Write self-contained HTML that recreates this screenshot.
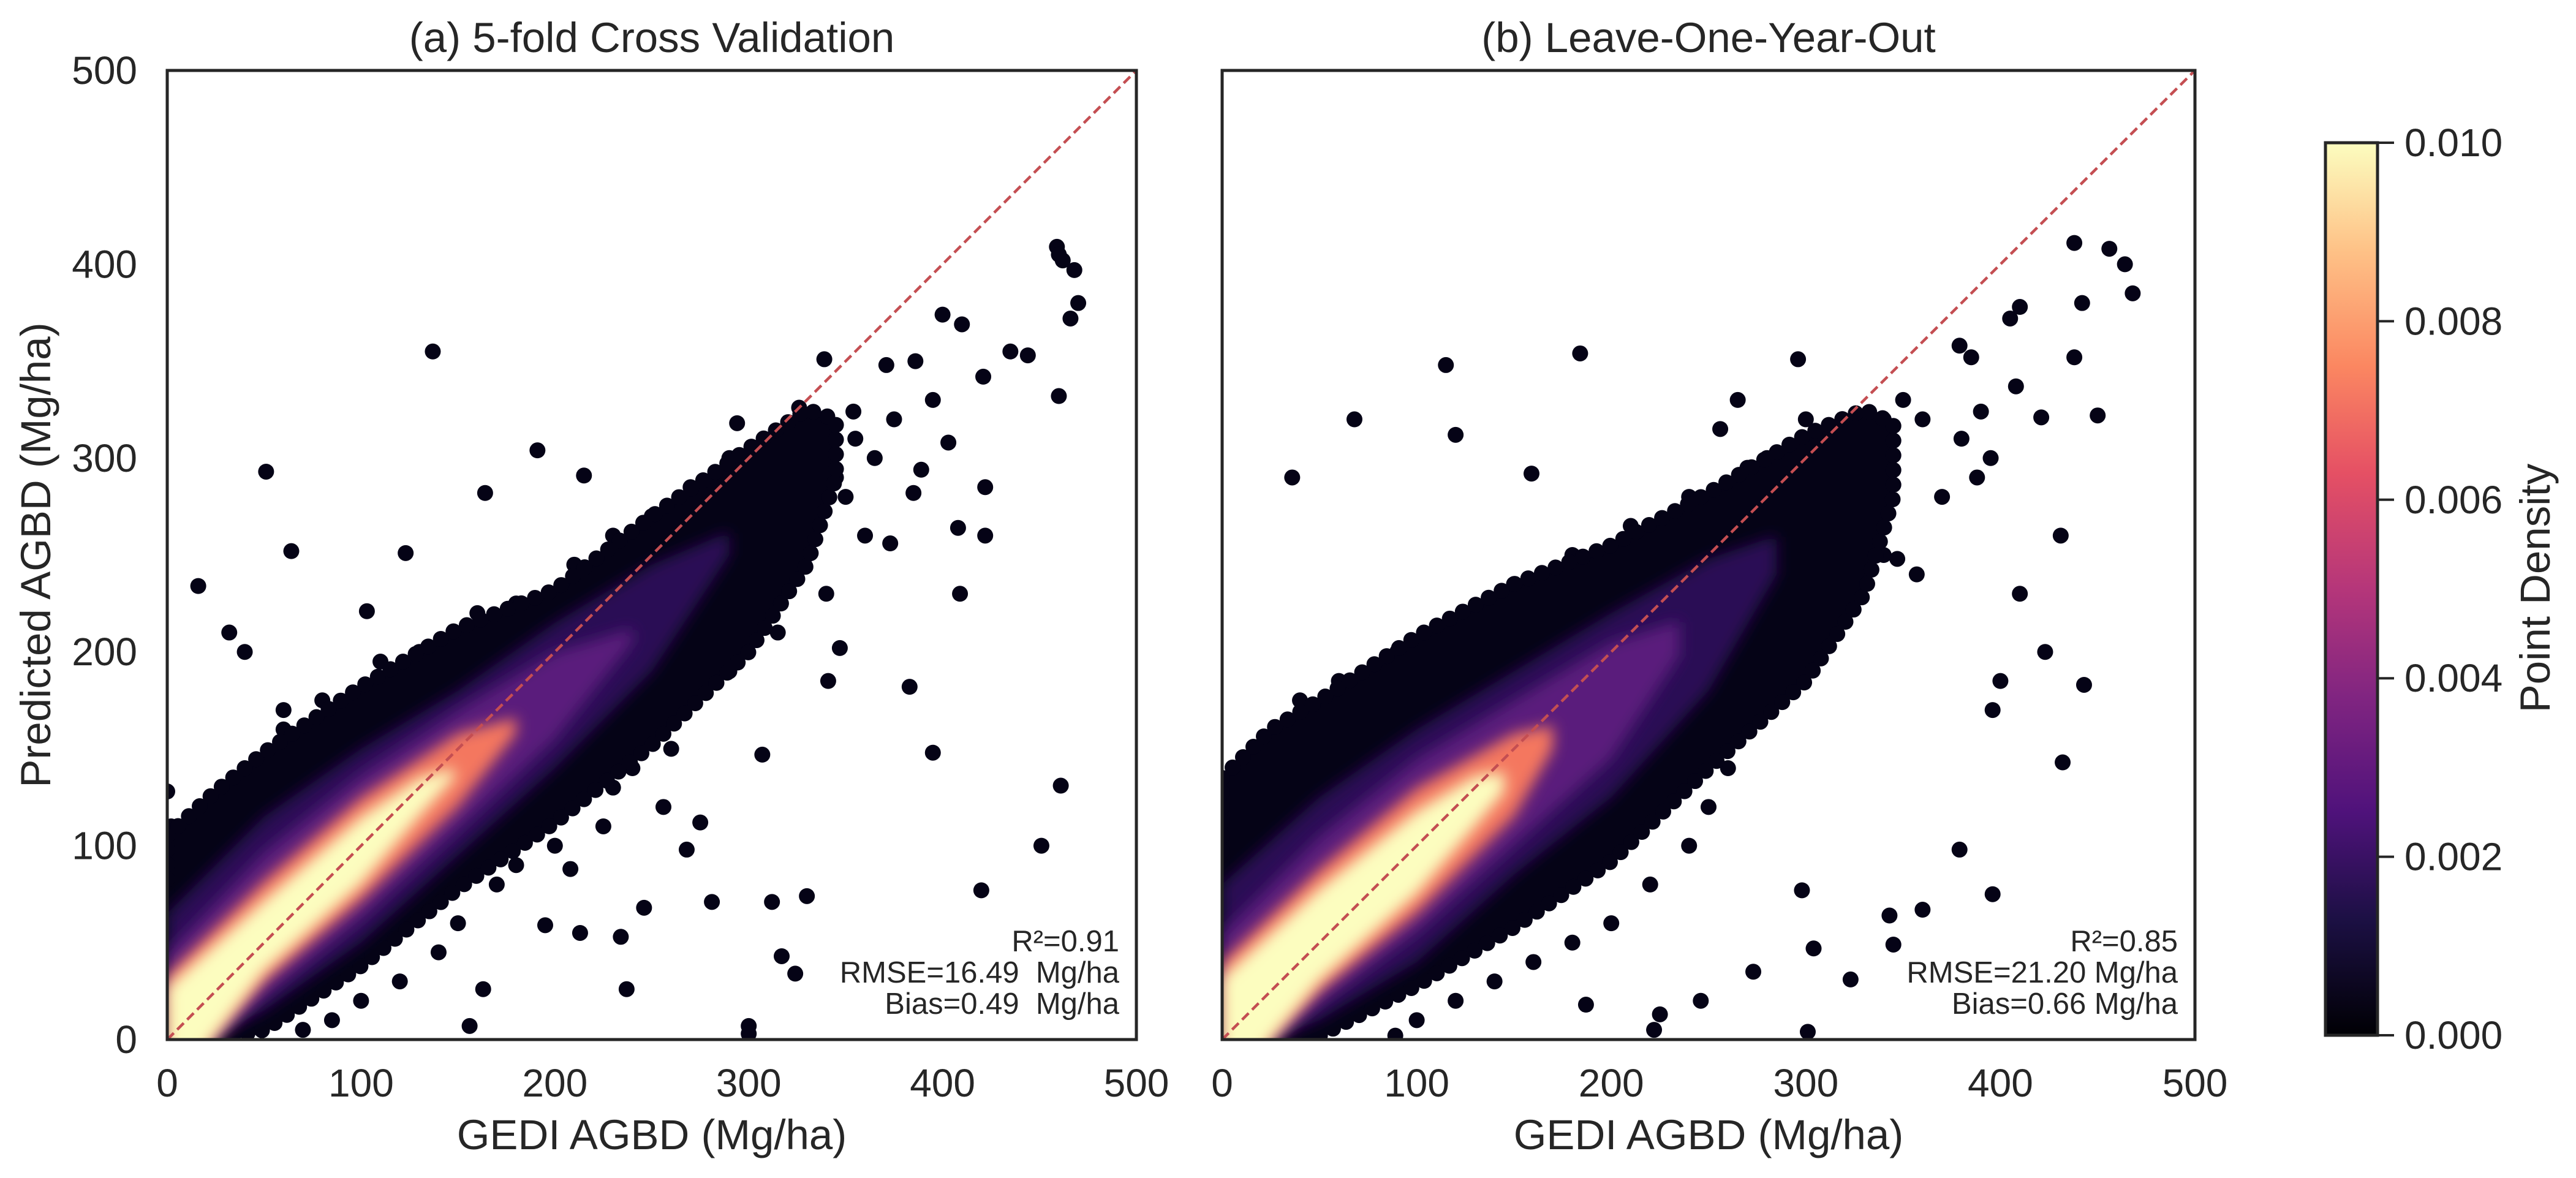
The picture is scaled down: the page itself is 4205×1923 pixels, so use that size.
<!DOCTYPE html>
<html><head><meta charset="utf-8"><style>
html,body{margin:0;padding:0;background:#fff;}
svg{display:block;font-family:"Liberation Sans",Arial,sans-serif;}
text{white-space:pre;}
</style></head><body>
<svg id="fig" width="4205" height="1923" viewBox="0 0 4205 1923" xmlns="http://www.w3.org/2000/svg">
<defs>
<linearGradient id="magma" x1="0" y1="1" x2="0" y2="0">
<stop offset="0" stop-color="#000004"/><stop offset="0.13" stop-color="#1c1044"/><stop offset="0.25" stop-color="#4f127b"/><stop offset="0.38" stop-color="#812581"/><stop offset="0.5" stop-color="#b5367a"/><stop offset="0.63" stop-color="#e55064"/><stop offset="0.75" stop-color="#fb8761"/><stop offset="0.88" stop-color="#fec287"/><stop offset="1" stop-color="#fcfdbf"/>
</linearGradient>
<filter id="blur" x="-10%" y="-10%" width="120%" height="120%"><feGaussianBlur stdDeviation="12"/></filter>
<clipPath id="clipA"><rect x="273" y="115" width="1582" height="1582"/></clipPath>
<clipPath id="clipB"><rect x="1995" y="115" width="1588" height="1582"/></clipPath>
</defs>
</svg>
<script>
// ---- data ----
const xTicks=[0,100,200,300,400,500];
const yTicks=[0,100,200,300,400,500];
const cbTicks=[0,0.002,0.004,0.006,0.008,0.010];
const cbTickLabels=["0.000","0.002","0.004","0.006","0.008","0.010"];
const levelValues=[0,0.0015,0.003,0.0065,0.01];
// panel a density bands (x knots, upper, lower)
const aBandX=[[0,25,50,100,150,200,250,300,330,345],[0,50,100,150,200,250,290],[0,50,100,150,200,240],[0,50,100,150,180],[0,50,100,130,148]];
const aBandUp=[[105,128,148,182,212,232,270,305,325,320],[65,115,150,180,215,245,262],[45,97,137,170,200,212],[33,82,125,158,166],[27,72,115,135,140]];
const aBandLo=[[-10,0,5,38,78,112,152,200,245,290],[-10,15,50,95,140,190,250],[-20,22,62,108,155,205],[-25,30,72,120,158],[-30,35,80,115,135]];
const aOutX=[137,51,191,215,164,16,64,123,32,40,103,461,451,420,395,383,307,300,324,330,312,281,237,163,156,459,468,460,435,444,410,400,422,422,408,409,341,347,373,385,389,403,339,326,294,354,371,386,421,256,268,208,213,234,317,246,275,195,0,2,20,60,300,470,466,462,460,
 310,320,330,345,355,365,300,290,310,330,280,290,300,270,250,260,240,230,225,200,180,170,150,140,120,100,85,70,20,40,60,80,110,130,160,180,210,230,250,270,290,350,360,340,375,395,315];
const aOutY=[355,293,304,291,282,234,252,251,210,200,221,131,100,77,148,182,147,7,34,74,71,71,26,26,7,409,397,332,355,353,369,374,260,285,264,230,185,202,256,282,294,308,351,326,318,324,348,350,342,120,98,88,55,53,43,68,112,59,128,110,120,170,3,380,372,402,405,
 280,300,270,290,310,300,250,230,240,250,200,190,210,180,170,150,140,130,110,100,90,80,60,45,30,20,10,5,110,140,160,175,195,200,220,225,245,260,270,285,300,280,260,230,320,330,210];
// panel b density bands
const bBandX=[[0,25,50,100,150,200,250,300,330,345],[0,50,100,150,200,250,285],[0,50,100,150,200,235],[0,50,100,150,170],[0,50,100,130,145]];
const bBandUp=[[135,160,175,208,235,255,282,312,325,318],[80,125,160,190,220,248,260],[55,105,145,175,205,216],[40,88,130,158,162],[32,78,118,136,138]];
const bBandLo=[[-10,-5,2,28,58,92,140,185,230,280],[-10,10,40,85,125,180,240],[-20,18,55,100,145,198],[-25,25,65,115,150],[-30,30,75,110,128]];
const bOutX=[115,184,68,120,36,159,296,379,385,405,410,408,438,438,442,421,432,443,423,410,396,400,396,360,343,301,298,304,323,273,246,345,222,225,187,89,379,347,357,280,256,265,330,450,456,464,468,431,390,388,340,
 300,320,340,330,310,290,300,320,280,290,270,260,250,240,220,200,180,160,140,120,100,20,40,60,90,120,150,180,210,240,270,300,350,360,380,370,395];
const bOutY=[348,354,320,312,290,292,351,358,352,372,378,337,352,411,380,321,143,183,200,230,170,185,75,67,64,4,77,47,31,35,20,49,5,13,18,2,98,248,240,300,315,330,315,322,408,400,385,260,324,290,250,
 290,310,320,300,270,250,230,240,210,180,160,140,120,100,80,60,50,40,30,20,10,150,175,185,200,215,235,250,265,280,295,320,330,320,310,280,300];
// ---- drawing ----
const NS="http://www.w3.org/2000/svg";
const svg=document.getElementById('fig');
function mk(tag,attrs,parent){const e=document.createElementNS(NS,tag);for(const k in attrs)e.setAttribute(k,attrs[k]);(parent||svg).appendChild(e);return e;}
const levelColors=["#050316","#2a0f55","#5a1a7c","#f4775e","#fcfdbf"];
function panel(px0,px1,py0,py1,clip,bx,bu,bl,ox,oy,title,stats,name,showY){
  const sx=v=>px0+(px1-px0)*v/500, sy=v=>py1-(py1-py0)*v/500;
  const g=mk('g',{'clip-path':'url(#'+clip+')'});
  
  
  for(let i=0;i<ox.length;i++){
    const c=mk('circle',{cx:sx(ox[i]),cy:sy(oy[i]),r:13,fill:'#050316'},g);
    
    
  }
  for(let l=0;l<bx.length;l++){
    let pts=[];
    for(let k=0;k<bx[l].length;k++)pts.push(sx(bx[l][k])+','+sy(bu[l][k]));
    for(let k=bx[l].length-1;k>=0;k--)pts.push(sx(bx[l][k])+','+sy(bl[l][k]));
    const attrs={points:pts.join(' '),fill:levelColors[l]};
    if(l===0){attrs.stroke='#050316';attrs['stroke-width']=26;attrs['stroke-linecap']='round';attrs['stroke-dasharray']='0 24';}
    const p=mk('polygon',attrs,g);
    if(l>0)p.setAttribute('filter','url(#blur)');
    
    
  }
  const ln=mk('line',{x1:sx(0),y1:sy(0),x2:sx(500),y2:sy(500),stroke:'#c44e52','stroke-width':4.5,'stroke-dasharray':'15,8'},g);
  
  
  const fr=mk('rect',{x:px0,y:py0,width:px1-px0,height:py1-py0,fill:'none',stroke:'#262626','stroke-width':5});
  
  
  xTicks.forEach(t=>{const e=mk('text',{x:sx(t),y:1790,'font-size':64,'text-anchor':'middle',fill:'#262626'});e.textContent=t;
    });
  if(showY)yTicks.forEach(t=>{const e=mk('text',{x:224,y:sy(t)+22,'font-size':64,'text-anchor':'end',fill:'#262626'});e.textContent=t;
    });
  const tt=mk('text',{x:(px0+px1)/2,y:85,'font-size':69,'text-anchor':'middle',fill:'#262626'});tt.textContent=title;
  
  const xl=mk('text',{x:(px0+px1)/2,y:1876,'font-size':69,'text-anchor':'middle',fill:'#262626'});xl.textContent='GEDI AGBD (Mg/ha)';
  
  stats.forEach((s,i)=>{const e=mk('text',{x:px1-28,y:1553+i*51,'font-size':49,'text-anchor':'end',fill:'#262626'});e.textContent=s;
    });
}
panel(273,1855,115,1697,'clipA',aBandX,aBandUp,aBandLo,aOutX,aOutY,'(a) 5-fold Cross Validation',['R²=0.91','RMSE=16.49  Mg/ha','Bias=0.49  Mg/ha'],'panel-a',true);
panel(1995,3583,115,1697,'clipB',bBandX,bBandUp,bBandLo,bOutX,bOutY,'(b) Leave-One-Year-Out',['R²=0.85','RMSE=21.20 Mg/ha','Bias=0.66 Mg/ha'],'panel-b',false);
const yl=mk('text',{x:0,y:0,'font-size':69,'text-anchor':'middle',fill:'#262626',transform:'translate(82,906) rotate(-90)'});yl.textContent='Predicted AGBD (Mg/ha)';

// colorbar
const cb0=233,cb1=1690;
const cy=v=>cb1-(cb1-cb0)*v/0.01;
const cbr=mk('rect',{x:3796,y:cb0,width:85,height:cb1-cb0,fill:'url(#magma)',stroke:'#262626','stroke-width':5});

cbTicks.forEach((t,i)=>{
  const tk=mk('line',{x1:3881,y1:cy(t),x2:3908,y2:cy(t),stroke:'#262626','stroke-width':4});
  
  const e=mk('text',{x:3925,y:cy(t)+22,'font-size':64,fill:'#262626'});e.textContent=cbTickLabels[i];
  
});
const cl=mk('text',{x:0,y:0,'font-size':69,'text-anchor':'middle',fill:'#262626',transform:'translate(4162,960) rotate(-90)'});cl.textContent='Point Density';

</script>
</body></html>
